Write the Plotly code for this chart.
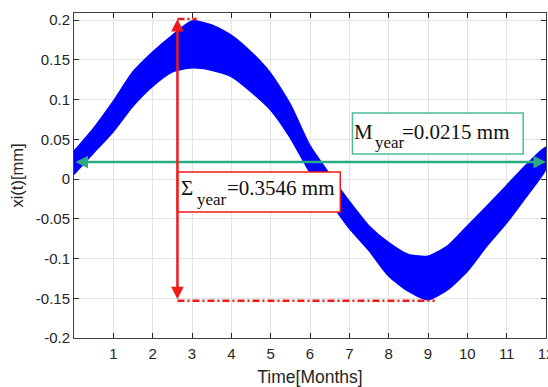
import plotly.graph_objects as go

# ---- data ----
months = [0, 0.5, 1, 1.5, 2, 2.5, 3, 3.5, 4, 4.5, 5, 5.5, 6,
          6.5, 7, 7.5, 8, 8.5, 9, 9.5, 10, 10.5, 11, 11.5, 12]
xi_upper = [0.035, 0.064, 0.098, 0.135, 0.160, 0.181, 0.199, 0.194, 0.181, 0.160, 0.133, 0.094, 0.042,
            0.006, -0.028, -0.059, -0.080, -0.095, -0.097, -0.084, -0.059, -0.034, -0.008, 0.018, 0.040]
xi_lower = [0.006, 0.033, 0.060, 0.092, 0.117, 0.135, 0.140, 0.137, 0.129, 0.110, 0.087, 0.052, 0.008,
            -0.028, -0.062, -0.090, -0.122, -0.141, -0.152, -0.139, -0.116, -0.084, -0.055, -0.022, 0.013]

mean_year = 0.0215
sigma_year = 0.3546
sigma_top = 0.2015
sigma_bottom = -0.1531
sigma_x = 2.63
peak_x = 3.12
trough_x = 9.17

x_tick_vals = [1, 2, 3, 4, 5, 6, 7, 8, 9, 10, 11, 12]
y_tick_vals = [-0.2, -0.15, -0.1, -0.05, 0, 0.05, 0.1, 0.15, 0.2]
y_tick_text = ["-0.2", "-0.15", "-0.1", "-0.05", "0", "0.05", "0.1", "0.15", "0.2"]

RED = "#f01a1a"
GREEN = "#2aab82"
TEAL = "#4dbb9e"

fig = go.Figure()

# blue signal band
fig.add_trace(go.Scatter(
    x=months + months[::-1],
    y=xi_upper + xi_lower[::-1],
    fill="toself", fillcolor="#0000ff",
    mode="lines", line=dict(color="#0000ff", width=1.5, shape="spline", smoothing=0.6),
    hoverinfo="skip", showlegend=False))

# red dash-dot guide lines
fig.add_trace(go.Scatter(x=[sigma_x, peak_x], y=[sigma_top, sigma_top], mode="lines",
                         line=dict(color=RED, width=2.5, dash="7px,3px,2px,3px"), showlegend=False))
fig.add_trace(go.Scatter(x=[sigma_x, trough_x], y=[sigma_bottom, sigma_bottom], mode="lines",
                         line=dict(color=RED, width=2.5, dash="7px,3px,2px,3px"), showlegend=False))

# boxes
fig.add_shape(type="rect", xref="x", yref="y", x0=2.63, x1=6.77, y0=-0.0414, y1=0.0088,
              line=dict(color=RED, width=1.5), fillcolor="white", layer="above")
fig.add_shape(type="rect", xref="x", yref="y", x0=7.08, x1=11.42, y0=0.0315, y1=0.0830,
              line=dict(color=TEAL, width=1.5), fillcolor="white", layer="above")

serif = "Liberation Serif, Times New Roman, serif"


def label(x, y, text, size):
    fig.add_annotation(x=x, y=y, xref="x", yref="y", xanchor="left", yanchor="middle",
                       text=text, showarrow=False, borderpad=0, borderwidth=0,
                       font=dict(family=serif, size=size, color="#111"))


# Sigma box text
label(2.72, -0.0112, "Σ", 21)
label(3.12, -0.0254, "year", 17)
label(3.89, -0.0112, "=%.4f mm" % sigma_year, 21)
# M box text
label(7.12, 0.0597, "M", 21)
label(7.65, 0.0455, "year", 17)
label(8.33, 0.0597, "=%.4f mm" % mean_year, 21)

# green double arrow (mean)
fig.add_annotation(x=12, y=mean_year, ax=0, ay=mean_year, xref="x", yref="y", axref="x", ayref="y",
                   text="", showarrow=True, arrowhead=2, arrowside="end+start", arrowsize=1.0,
                   arrowwidth=2.5, arrowcolor=GREEN, standoff=0, startstandoff=0)
# red double arrow (sigma)
fig.add_annotation(x=sigma_x, y=sigma_top, ax=sigma_x, ay=sigma_bottom, xref="x", yref="y",
                   axref="x", ayref="y", text="", showarrow=True, arrowhead=2, arrowside="end+start",
                   arrowsize=1.0, arrowwidth=2.5, arrowcolor=RED, standoff=0, startstandoff=0)

sans = "Liberation Sans, Arial, sans-serif"
fig.update_layout(
    width=548, height=387,
    margin=dict(l=74, r=2, t=13, b=49, autoexpand=False),
    paper_bgcolor="white", plot_bgcolor="white",
    font=dict(family=sans, size=15, color="#262626"),
    showlegend=False,
)
fig.update_xaxes(range=[0, 12], tickvals=x_tick_vals, ticks="inside", ticklen=5, tickcolor="#262626",
                 showline=True, linecolor="#404040", linewidth=1, mirror="ticks",
                 showgrid=True, gridcolor="#e3e3e3", gridwidth=1, zeroline=False,
                 ticklabeloverflow="allow", ticklabelstandoff=2, automargin=False,
                 tickfont=dict(size=15), title=dict(text="Time[Months]", font=dict(size=17.5), standoff=10))
fig.update_yaxes(range=[-0.2, 0.209], tickvals=y_tick_vals, ticktext=y_tick_text, ticks="inside",
                 ticklen=5, tickcolor="#262626", showline=True, linecolor="#404040", linewidth=1,
                 mirror="ticks", showgrid=True, gridcolor="#e3e3e3", gridwidth=1, zeroline=False,
                 automargin=False,
                 tickfont=dict(size=15), title=dict(text="xi(t)[mm]", font=dict(size=16.5), standoff=8))

fig.write_html("out.html")
